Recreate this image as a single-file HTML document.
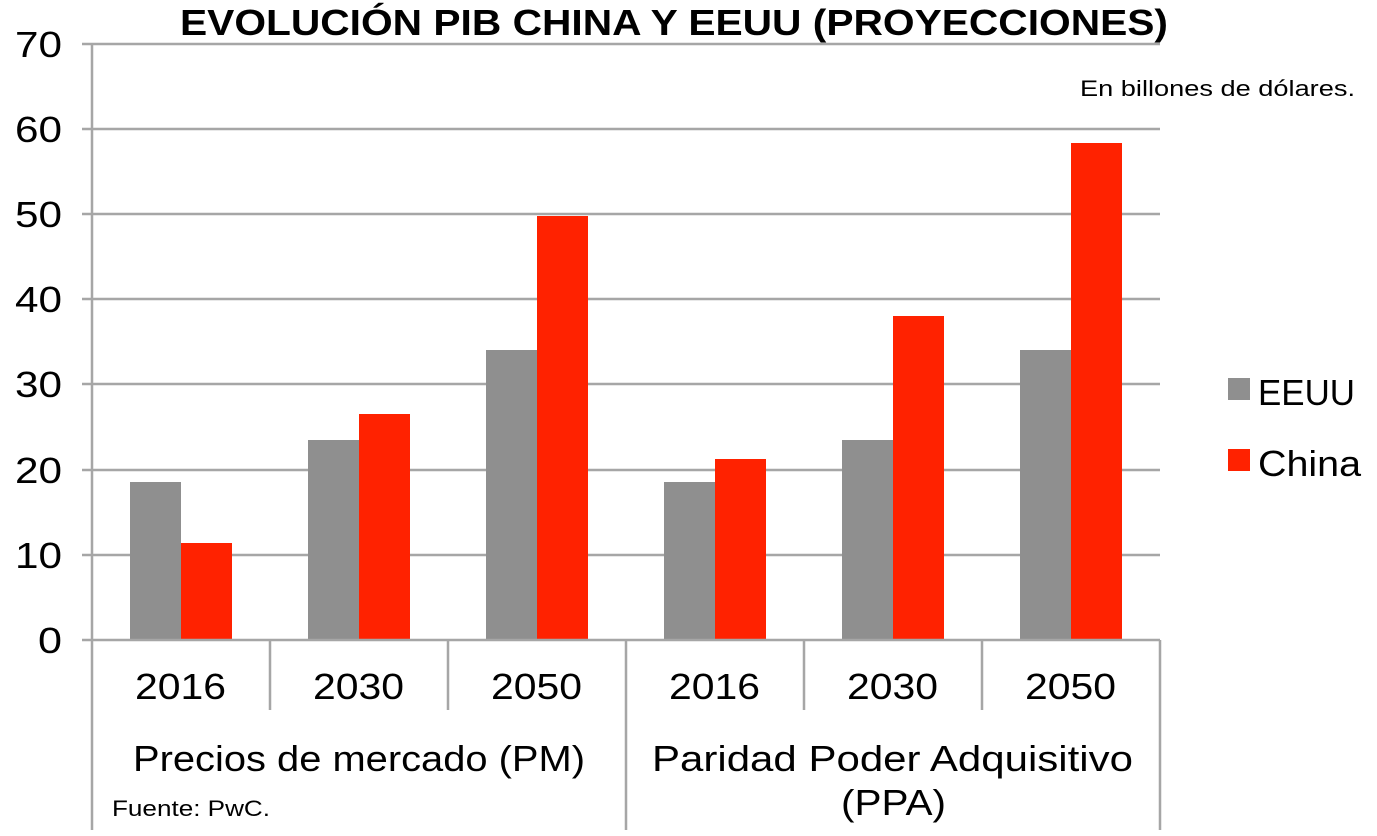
<!DOCTYPE html>
<html><head><meta charset="utf-8"><style>
html,body{margin:0;padding:0;background:#fff;}
svg{display:block;font-family:"Liberation Sans",sans-serif;}
</style></head><body>
<svg width="1377" height="836" viewBox="0 0 1377 836" xmlns="http://www.w3.org/2000/svg">
<text x="180" y="35" font-size="36" font-weight="bold" textLength="988" lengthAdjust="spacingAndGlyphs">EVOLUCIÓN PIB CHINA Y EEUU (PROYECCIONES)</text>
<g stroke="#a6a6a6" stroke-width="2.5">
<line x1="82" y1="44" x2="1160" y2="44"/>
<line x1="82" y1="129" x2="1160" y2="129"/>
<line x1="82" y1="214" x2="1160" y2="214"/>
<line x1="82" y1="299" x2="1160" y2="299"/>
<line x1="82" y1="384" x2="1160" y2="384"/>
<line x1="82" y1="470" x2="1160" y2="470"/>
<line x1="82" y1="555" x2="1160" y2="555"/>
<line x1="92" y1="44" x2="92" y2="830"/>
<line x1="626" y1="640" x2="626" y2="830"/>
<line x1="1160" y1="640" x2="1160" y2="830"/>
<line x1="270" y1="640" x2="270" y2="710"/>
<line x1="448" y1="640" x2="448" y2="710"/>
<line x1="804" y1="640" x2="804" y2="710"/>
<line x1="982" y1="640" x2="982" y2="710"/>
</g>
<g fill="#8f8f8f">
<rect x="130" y="482" width="51" height="158"/>
<rect x="308" y="440" width="51" height="200"/>
<rect x="486" y="350" width="51" height="290"/>
<rect x="664" y="482" width="51" height="158"/>
<rect x="842" y="440" width="51" height="200"/>
<rect x="1020" y="350" width="51" height="290"/>
</g>
<g fill="#ff2200">
<rect x="181" y="543" width="51" height="97"/>
<rect x="359" y="414" width="51" height="226"/>
<rect x="537" y="216" width="51" height="424"/>
<rect x="715" y="459" width="51" height="181"/>
<rect x="893" y="316" width="51" height="324"/>
<rect x="1071" y="143" width="51" height="497"/>
</g>
<line x1="82" y1="640" x2="1160" y2="640" stroke="#a6a6a6" stroke-width="2.5"/>
<g font-size="36">
<text x="15" y="57" textLength="47" lengthAdjust="spacingAndGlyphs">70</text>
<text x="15" y="142" textLength="47" lengthAdjust="spacingAndGlyphs">60</text>
<text x="15" y="227" textLength="47" lengthAdjust="spacingAndGlyphs">50</text>
<text x="15" y="312" textLength="47" lengthAdjust="spacingAndGlyphs">40</text>
<text x="15" y="397" textLength="47" lengthAdjust="spacingAndGlyphs">30</text>
<text x="15" y="483" textLength="47" lengthAdjust="spacingAndGlyphs">20</text>
<text x="15" y="568" textLength="47" lengthAdjust="spacingAndGlyphs">10</text>
<text x="38" y="653" textLength="24" lengthAdjust="spacingAndGlyphs">0</text>
</g>
<g font-size="36">
<text x="135" y="699" textLength="91" lengthAdjust="spacingAndGlyphs">2016</text>
<text x="313" y="699" textLength="91" lengthAdjust="spacingAndGlyphs">2030</text>
<text x="491" y="699" textLength="91" lengthAdjust="spacingAndGlyphs">2050</text>
<text x="669" y="699" textLength="91" lengthAdjust="spacingAndGlyphs">2016</text>
<text x="847" y="699" textLength="91" lengthAdjust="spacingAndGlyphs">2030</text>
<text x="1025" y="699" textLength="91" lengthAdjust="spacingAndGlyphs">2050</text>
<text x="133" y="771" textLength="452" lengthAdjust="spacingAndGlyphs">Precios de mercado (PM)</text>
<text x="652" y="771" textLength="481" lengthAdjust="spacingAndGlyphs">Paridad Poder Adquisitivo</text>
<text x="841" y="815" textLength="105" lengthAdjust="spacingAndGlyphs">(PPA)</text>
</g>
<text x="112" y="816" font-size="22" textLength="158" lengthAdjust="spacingAndGlyphs">Fuente: PwC.</text>
<text x="1080" y="96" font-size="22" textLength="275" lengthAdjust="spacingAndGlyphs">En billones de dólares.</text>
<rect x="1228" y="378" width="22" height="22" fill="#8f8f8f"/>
<text x="1258" y="405" font-size="36" textLength="97" lengthAdjust="spacingAndGlyphs">EEUU</text>
<rect x="1228" y="449" width="22" height="22" fill="#ff2200"/>
<text x="1258" y="476" font-size="36" textLength="103" lengthAdjust="spacingAndGlyphs">China</text>
</svg>
</body></html>
